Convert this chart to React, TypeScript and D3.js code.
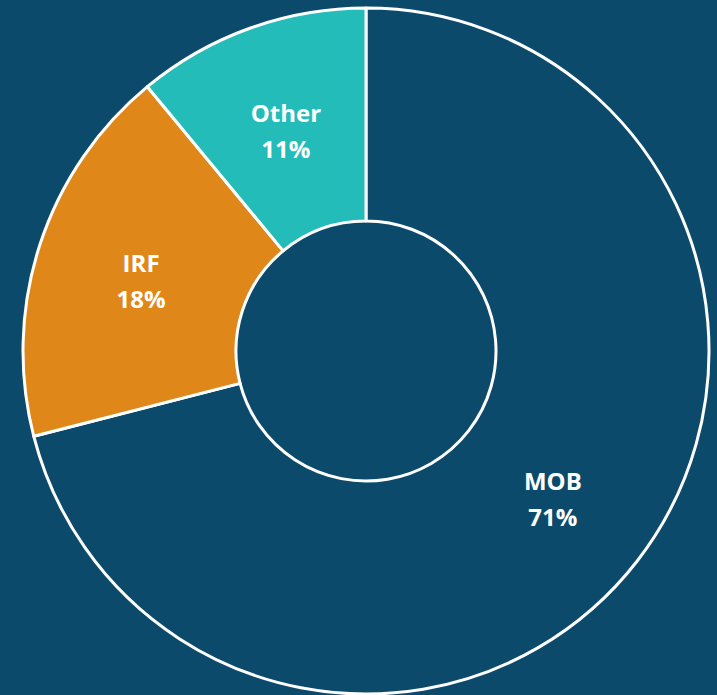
import React from "react";
import * as d3 from "d3";

const categories = ["MOB", "IRF", "Other"];
const values = [71, 18, 11];
const colors = ["#0b4a6b", "#e0871a", "#23bcb8"];

const W = 717;
const H = 695;

export default function App() {
  const cx = 366;
  const cy = 351;
  const outerR = 343;
  const innerR = 130;
  const pie = d3.pie<number>().sort(null).value((d) => d)(values);
  const arc = d3.arc<d3.PieArcDatum<number>>().innerRadius(innerR).outerRadius(outerR);
  return (
    <div style={{ position: "fixed", left: 0, top: 0, width: W, height: H }}>
      <svg width={W} height={H} style={{ display: "block" }}>
        <rect x={0} y={0} width={W} height={H} fill="#0b4a6b" />
        <g transform={`translate(${cx},${cy})`}>
          {pie.map((p, i) => (
            <path key={i} d={arc(p) || ""} fill={colors[i]} stroke="#ffffff" strokeWidth={3} strokeLinejoin="round" />
          ))}
          {pie.map((p, i) => {
            const [x, y] = arc.centroid(p);
            return (
              <text
                key={"t" + i}
                x={x}
                y={y}
                textAnchor="middle"
                fill="#ffffff"
                fontFamily="'Open Sans', 'Noto Sans', sans-serif"
                fontWeight="bold"
                fontSize={24}
              >
                <tspan x={x} dy={-6}>{categories[i]}</tspan>
                <tspan x={x} dy={36}>{values[i] + "%"}</tspan>
              </text>
            );
          })}
        </g>
      </svg>
    </div>
  );
}
